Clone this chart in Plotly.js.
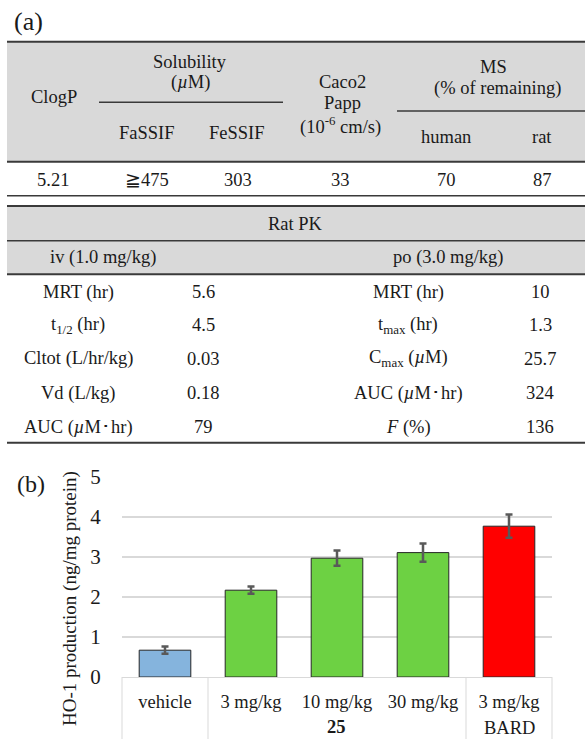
<!DOCTYPE html>
<html>
<head>
<meta charset="utf-8">
<script src="https://cdn.plot.ly/plotly-3.0.1.min.js"></script>
<style>html,body{margin:0;padding:0;background:#fff;}#chart{width:585px;height:739px;}</style>
</head>
<body>
<div id="chart"></div>
<script>
// ---------- data ----------
const categories = ['vehicle', '3 mg/kg', '10 mg/kg', '30 mg/kg', '3 mg/kg'];
const groupLabels = ['<b>25</b>', 'BARD'];
const hoValues = [0.67, 2.17, 2.97, 3.11, 3.77];
const hoErrors = [0.09, 0.09, 0.19, 0.23, 0.29];
const yTicks = [0, 1, 2, 3, 4, 5];

const propHeaders = ['ClogP', 'FaSSIF', 'FeSSIF', 'Caco2', 'human', 'rat'];
const propValues = ['5.21', '≧475', '303', '33', '70', '87'];

const ivLabels = ['MRT (hr)', 't<sub>1/2</sub> (hr)', 'Cltot (L/hr/kg)', 'Vd (L/kg)', 'AUC (<i>µ</i>M･hr)'];
const ivValues = ['5.6', '4.5', '0.03', '0.18', '79'];
const poLabels = ['MRT (hr)', 't<sub>max</sub> (hr)', 'C<sub>max</sub> (<i>µ</i>M)', 'AUC (<i>µ</i>M･hr)', '<i>F</i> (%)'];
const poValues = ['10', '1.3', '25.7', '324', '136'];

// ---------- geometry ----------
const W = 585, H = 739, L = 122, R = 33, T = 477, B = 62;
const PW = W - L - R, PH = H - T - B;
const X = px => (px - L) / PW;
const Y = py => (H - B - py) / PH;
const SERIF = "'Liberation Serif', 'Times New Roman', serif";
const TXT = '#1a1a1a';
const GRAY = '#d9d9d9';
const DARK = '#3a3a3a';

const annotations = [];
function txt(text, px, py, size, extra) {
  annotations.push(Object.assign({
    xref: 'paper', yref: 'paper', x: X(px), y: Y(py), text: text,
    showarrow: false, xanchor: 'center', yanchor: 'middle',
    font: {family: SERIF, size: size || 18.5, color: TXT}
  }, extra || {}));
}
const shapes = [];
function hline(y, x0, x1, w) {
  shapes.push({type: 'line', xref: 'paper', yref: 'paper', x0: X(x0), x1: X(x1), y0: Y(y), y1: Y(y),
    line: {color: DARK, width: w}});
}
function grect(y0, y1) {
  shapes.push({type: 'rect', xref: 'paper', yref: 'paper', x0: X(7), x1: X(585), y0: Y(y0), y1: Y(y1),
    fillcolor: GRAY, line: {width: 0}, layer: 'below'});
}

// ---------- table 1 ----------
grect(42, 161.7);
hline(41.7, 7, 585, 2);
hline(161.7, 7, 585, 2);
hline(195.7, 7, 585, 1.5);
hline(102.3, 99, 283, 1.5);
hline(111, 397, 585, 1.5);

txt('(a)', 28, 21, 26);
txt(propHeaders[0], 54, 97);
txt('Solubility', 190, 62);
txt('(<i>µ</i>M)', 190, 82);
txt(propHeaders[1], 147, 133);
txt(propHeaders[2], 237, 133);
txt(propHeaders[3], 342, 82);
txt('Papp', 342, 103);
txt('(10<sup>-6</sup> cm/s)', 340, 125);
txt('MS', 493, 67);
txt('(% of remaining)', 497, 88);
txt(propHeaders[4], 446, 137);
txt(propHeaders[5], 542, 137);
const valX = [53, 147, 238, 340, 446, 542];
propValues.forEach((v, i) => txt(v, valX[i], 180));

// ---------- table 2 ----------
grect(206, 274.3);
hline(206, 7, 585, 2);
hline(240.7, 7, 585, 1.5);
hline(274.3, 7, 585, 2);
hline(442.7, 7, 585, 2);
txt('Rat PK', 295, 224);
txt('iv (1.0 mg/kg)', 103, 257);
txt('po (3.0 mg/kg)', 448, 257);
const rowY = [292, 325, 358.5, 393, 427];
ivLabels.forEach((t, i) => txt(t, 78, rowY[i]));
ivValues.forEach((t, i) => txt(t, 203, rowY[i]));
poLabels.forEach((t, i) => txt(t, 408, rowY[i]));
poValues.forEach((t, i) => txt(t, 540, rowY[i]));

// ---------- chart (b) ----------
txt('(b)', 31, 484, 24);
txt('HO-1 production (ng/mg protein)', 70, 599, 19, {textangle: -90});
txt(groupLabels[0], 336, 727);
txt(groupLabels[1], 509, 727.5);

// category box dividers
[0, 1, 4, 5].forEach(k => {
  shapes.push({type: 'line', xref: 'paper', yref: 'paper', x0: k / 5, x1: k / 5, y0: 0, y1: Y(739),
    line: {color: GRAY, width: 1}});
});

const barColors = ['#85b4dd', '#6dd143', '#6dd143', '#6dd143', '#ff0000'];
const trace = {
  type: 'bar',
  x: categories.map((c, i) => i),
  y: hoValues,
  width: 0.6,
  marker: {color: barColors, line: {color: '#262626', width: 1}},
  error_y: {type: 'data', array: hoErrors, visible: true, color: '#595959', thickness: 2.5, width: 3.5},
  hoverinfo: 'skip'
};

const layout = {
  width: W, height: H,
  margin: {l: L, r: R, t: T, b: B, pad: 0},
  paper_bgcolor: '#fff', plot_bgcolor: '#fff',
  showlegend: false,
  xaxis: {
    range: [-0.5, 4.5], tickmode: 'array', tickvals: categories.map((c, i) => i), ticktext: categories,
    showgrid: false, zeroline: false, showline: true, linecolor: GRAY, linewidth: 1,
    ticks: 'outside', ticklen: 8, tickcolor: 'rgba(0,0,0,0)', fixedrange: true,
    tickfont: {family: SERIF, size: 18.5, color: TXT}
  },
  yaxis: {
    range: [0, 5], tickmode: 'array', tickvals: yTicks,
    showgrid: true, gridcolor: GRAY, gridwidth: 2, zeroline: false, showline: false,
    ticks: 'outside', ticklen: 16, tickcolor: 'rgba(0,0,0,0)', fixedrange: true,
    tickfont: {family: SERIF, size: 21, color: TXT}
  },
  shapes: shapes,
  annotations: annotations
};

Plotly.newPlot('chart', [trace], layout, {displayModeBar: false, staticPlot: true});
</script>
</body>
</html>
